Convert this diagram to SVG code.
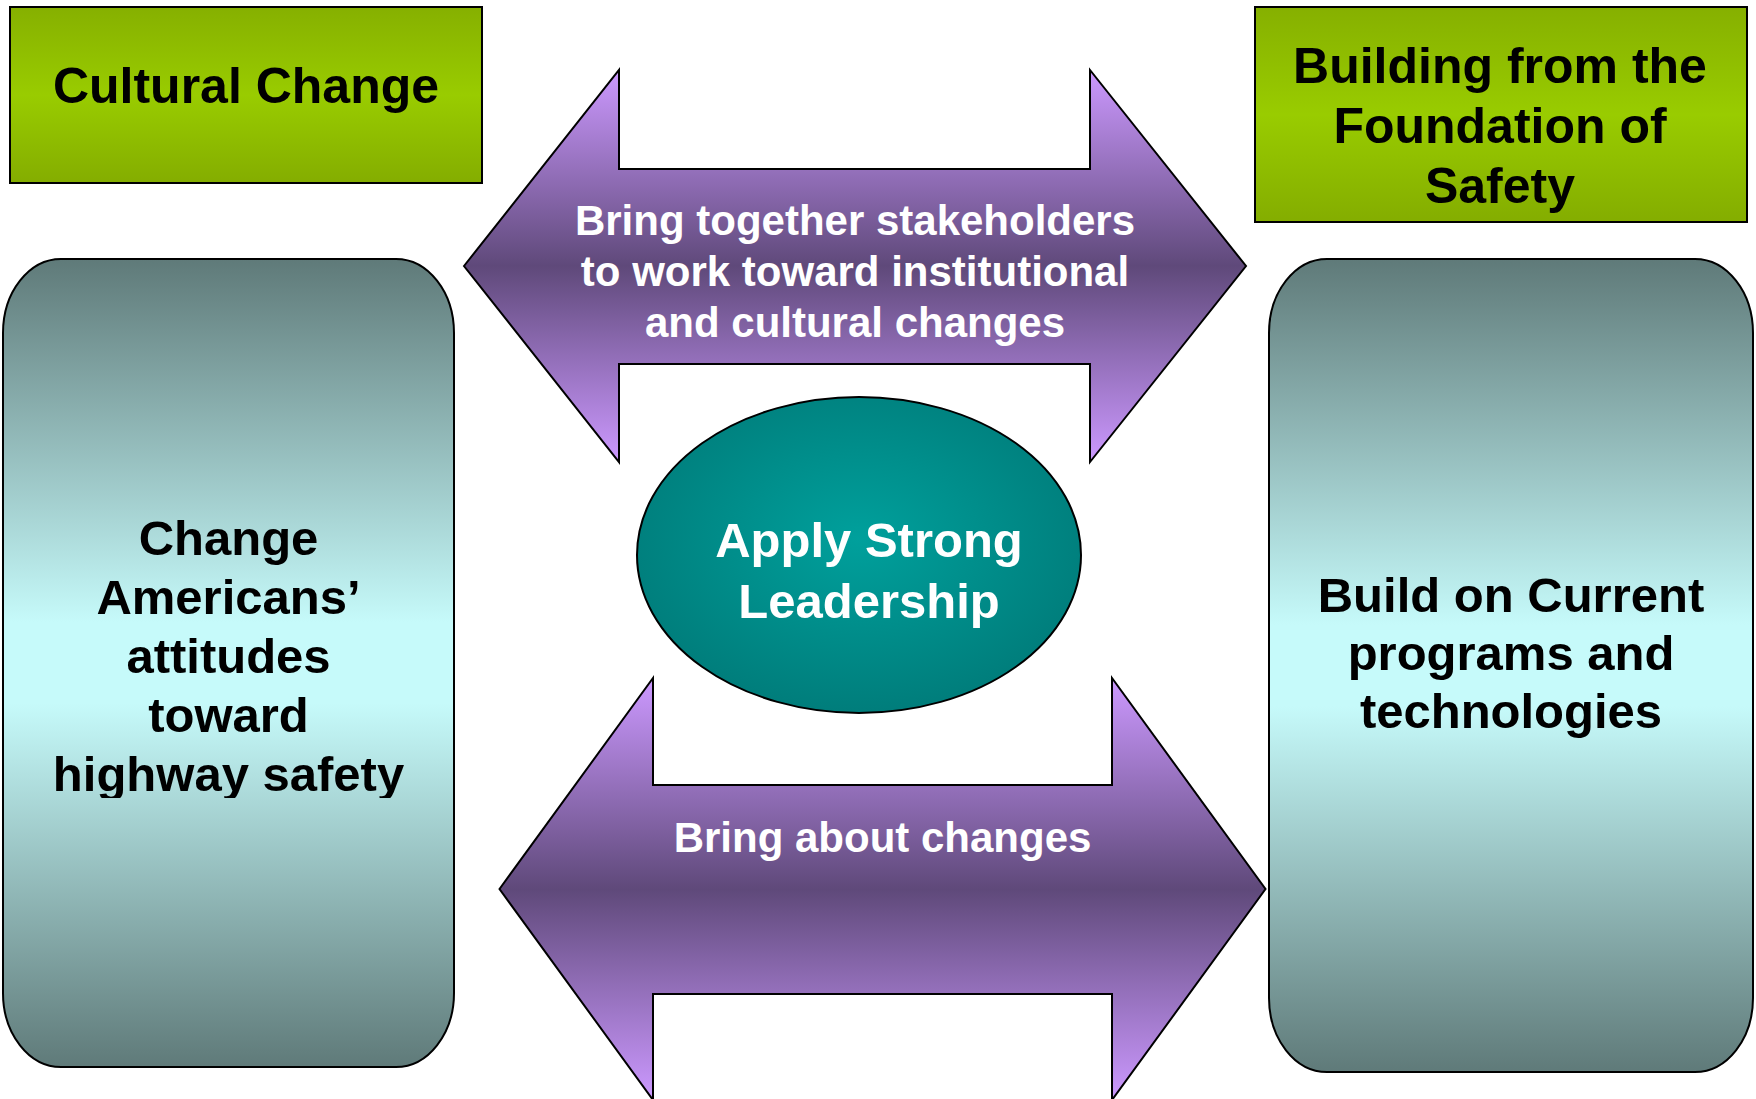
<svg xmlns="http://www.w3.org/2000/svg" width="1756" height="1099" viewBox="0 0 1756 1099">
  <style>
    text { font-family: "Liberation Sans", Arial, "DejaVu Sans", sans-serif; font-weight: bold; text-anchor: middle; }
    .dark { fill: #000000; }
    .light { fill: #ffffff; }
    .outline { stroke: #000000; stroke-width: 2; }
    .f50 { font-size: 50px; }
    .f49 { font-size: 49px; }
    .f42 { font-size: 42px; }
  </style>
  <defs>
    <linearGradient id="gGreen" x1="0" y1="0" x2="0" y2="1">
      <stop offset="0" stop-color="#86b000"/>
      <stop offset="0.5" stop-color="#99cc00"/>
      <stop offset="1" stop-color="#84ad00"/>
    </linearGradient>
    <linearGradient id="gPurple" x1="0" y1="0" x2="0" y2="1">
      <stop offset="0" stop-color="#cc99ff"/>
      <stop offset="0.5" stop-color="#5f497a"/>
      <stop offset="1" stop-color="#cc99ff"/>
    </linearGradient>
    <linearGradient id="gSlate" x1="0" y1="0" x2="0" y2="1">
      <stop offset="0" stop-color="#5f7a79"/>
      <stop offset="0.45" stop-color="#c6fafa"/>
      <stop offset="0.55" stop-color="#c6fafa"/>
      <stop offset="1" stop-color="#5f7a79"/>
    </linearGradient>
    <radialGradient id="gTeal" cx="0.5" cy="0.45" r="0.55">
      <stop offset="0" stop-color="#00a09c"/>
      <stop offset="1" stop-color="#007d7b"/>
    </radialGradient>
    <clipPath id="clipLeftText">
      <rect x="3" y="259" width="451" height="539"/>
    </clipPath>
  </defs>

  <rect width="1756" height="1099" fill="#ffffff"/>

  <g id="connectors">
    <g id="arrow-top">
      <path class="outline" fill="url(#gPurple)" d="M464,266 L619,70 L619,169 L1090,169 L1090,70 L1246,266 L1090,462 L1090,364 L619,364 L619,462 Z"/>
      <text class="light f42" x="855" y="235">Bring together stakeholders</text>
      <text class="light f42" x="855" y="286">to work toward institutional</text>
      <text class="light f42" x="855" y="337">and cultural changes</text>
    </g>
    <g id="arrow-bottom">
      <path class="outline" fill="url(#gPurple)" d="M499.5,889 L653,678 L653,785 L1112,785 L1112,678 L1265.5,889 L1112,1100 L1112,994 L653,994 L653,1100 Z"/>
      <text class="light f42" x="882.5" y="851.5">Bring about changes</text>
    </g>
  </g>

  <g id="cultural-change">
    <rect class="outline" x="10" y="7" width="472" height="176" fill="url(#gGreen)"/>
    <text class="dark f50" x="246" y="103">Cultural Change</text>
  </g>

  <g id="building-foundation">
    <rect class="outline" x="1255" y="7" width="492" height="215" fill="url(#gGreen)"/>
    <text class="dark f50" x="1500" y="83">Building from the</text>
    <text class="dark f50" x="1500" y="143">Foundation of</text>
    <text class="dark f50" x="1500" y="203">Safety</text>
  </g>

  <g id="change-attitudes">
    <rect class="outline" x="3" y="259" width="451" height="808" rx="58" ry="74" fill="url(#gSlate)"/>
    <g clip-path="url(#clipLeftText)">
      <text class="dark f49" x="228.5" y="555">Change</text>
      <text class="dark f49" x="228.5" y="614">Americans’</text>
      <text class="dark f49" x="228.5" y="673">attitudes</text>
      <text class="dark f49" x="228.5" y="732">toward</text>
      <text class="dark f49" x="228.5" y="791">highway safety</text>
    </g>
  </g>

  <g id="build-current">
    <rect class="outline" x="1269" y="259" width="484" height="813" rx="58" ry="74" fill="url(#gSlate)"/>
    <text class="dark f49" x="1511" y="612">Build on Current</text>
    <text class="dark f49" x="1511" y="670">programs and</text>
    <text class="dark f49" x="1511" y="728">technologies</text>
  </g>

  <g id="apply-leadership">
    <ellipse class="outline" cx="859" cy="555" rx="222" ry="158" fill="url(#gTeal)"/>
    <text class="light f49" x="869" y="557">Apply Strong</text>
    <text class="light f49" x="869" y="618">Leadership</text>
  </g>
</svg>
